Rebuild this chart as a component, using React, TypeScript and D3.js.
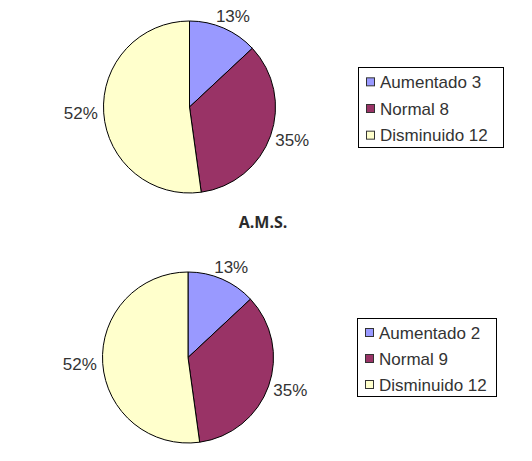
import React, { useEffect, useRef } from 'react';
import * as d3 from 'd3';

const categories = ['Aumentado', 'Normal', 'Disminuido'];
const colors = ['#9999FF', '#993366', '#FFFFCC'];
// upper pie: slices and legend counts
const topSlices = [3, 8, 12];
const topLegendCounts = [3, 8, 12];
// lower pie: the slices are drawn like the upper one, the legend says otherwise
const bottomSlices = [3, 8, 12];
const bottomLegendCounts = [2, 9, 12];
const middleTitle = 'A.M.S.';

interface PieSpec {
  slices: number[];
  legendCounts: number[];
  cx: number;
  cy: number;
  r: number;
  legend: { x: number; y: number; w: number; h: number };
}

const pies: PieSpec[] = [
  { slices: topSlices, legendCounts: topLegendCounts, cx: 189.5, cy: 107, r: 86, legend: { x: 358, y: 67, w: 145, h: 80 } },
  { slices: bottomSlices, legendCounts: bottomLegendCounts, cx: 188, cy: 357.5, r: 85.5, legend: { x: 357, y: 318, w: 139, h: 78 } },
];

const W = 532;
const H = 461;
const textColor = '#333333';
const labelFont = 'Arial, "Liberation Sans", sans-serif';

const App: React.FC = () => {
  const ref = useRef<SVGSVGElement>(null);

  useEffect(() => {
    const svg = d3.select(ref.current);
    svg.selectAll('*').remove();
    svg.append('rect').attr('width', W).attr('height', H).attr('fill', '#ffffff');

    const pct = d3.format('.0%');

    pies.forEach((p) => {
      const total = d3.sum(p.slices);
      const pie = d3.pie<number>().sort(null).value((d) => d);
      const arcs = pie(p.slices);
      const arc = d3.arc<d3.PieArcDatum<number>>().innerRadius(0).outerRadius(p.r);

      const g = svg.append('g').attr('transform', `translate(${p.cx},${p.cy})`);
      g.selectAll('path')
        .data(arcs)
        .enter()
        .append('path')
        .attr('d', arc)
        .attr('fill', (_, i) => colors[i])
        .attr('stroke', '#000')
        .attr('stroke-width', 1);

      // percentage labels just outside the rim
      arcs.forEach((a) => {
        const mid = (a.startAngle + a.endAngle) / 2;
        const s = Math.sin(mid);
        const c = -Math.cos(mid);
        const t = g
          .append('text')
          .attr('font-family', labelFont)
          .attr('font-size', 17)
          .attr('fill', textColor)
          .attr('text-anchor', 'middle')
          .attr('dominant-baseline', 'central')
          .text(pct(a.data / total));
        const w = (t.node() as SVGTextElement).getComputedTextLength();
        const h = 14;
        const d = p.r + 6;
        t.attr('x', s * d + (s * w) / 2).attr('y', c * d + (c * h) / 2);
      });

      // legend
      const L = p.legend;
      svg
        .append('rect')
        .attr('x', L.x + 0.5)
        .attr('y', L.y + 0.5)
        .attr('width', L.w)
        .attr('height', L.h)
        .attr('fill', '#fff')
        .attr('stroke', '#000');
      const step = L.h / 3;
      categories.forEach((cat, i) => {
        const yc = L.y + step * i + step / 2 + 2;
        svg
          .append('rect')
          .attr('x', L.x + 8.5)
          .attr('y', yc - 4.5)
          .attr('width', 8)
          .attr('height', 8)
          .attr('fill', colors[i])
          .attr('stroke', '#333');
        svg
          .append('text')
          .attr('x', L.x + 22)
          .attr('y', yc)
          .attr('dominant-baseline', 'central')
          .attr('font-family', labelFont)
          .attr('font-size', 17)
          .attr('fill', textColor)
          .text(`${cat} ${p.legendCounts[i]}`);
      });
    });

    svg
      .append('text')
      .attr('x', 263)
      .attr('y', 222)
      .attr('text-anchor', 'middle')
      .attr('dominant-baseline', 'central')
      .attr('font-family', '"Open Sans", sans-serif')
      .attr('font-weight', 'bold')
      .attr('font-size', 16)
      .attr('fill', '#2b2b2b')
      .text(middleTitle);
  }, []);

  return <svg ref={ref} width={W} height={H} style={{ position: 'absolute', left: 0, top: 0 }} />;
};

export default App;
